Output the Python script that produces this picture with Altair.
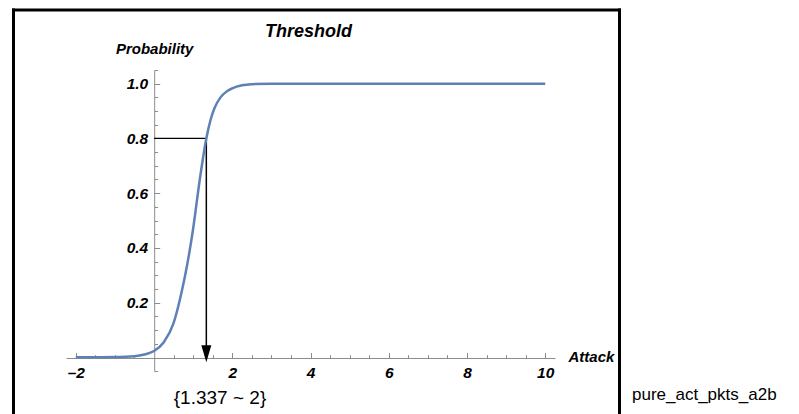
import altair as alt
import pandas as pd

# ---- data ----
attack = [-2, -1.5, -1, -0.5, -0.25, 0, 0.25, 0.5, 0.7, 0.85, 1.0, 1.17, 1.337,
          1.45, 1.55, 1.7, 1.85, 2.0, 2.25, 2.5, 3, 4, 6, 8, 10]
prob = [0, 0.0005, 0.001, 0.004, 0.01, 0.023, 0.055, 0.125, 0.235, 0.34, 0.47, 0.65, 0.8,
        0.87, 0.912, 0.95, 0.971, 0.983, 0.994, 0.998, 1.0, 1.0, 1.0, 1.0, 1.0]

threshold_x = [1.337]
threshold_p = [0.8]
threshold_label = ["{1.337 ~ 2}"]
side_label = ["pure_act_pkts_a2b"]

x_major = [-2, 2, 4, 6, 8, 10]
x_minor = [-1.5, -1, -0.5, 0.5, 1, 1.5, 2.5, 3, 3.5, 4.5, 5, 5.5, 6.5, 7, 7.5,
           8.5, 9, 9.5]
y_major = [0.2, 0.4, 0.6, 0.8, 1.0]
y_minor = [-0.05, 0.05, 0.1, 0.15, 0.25, 0.3, 0.35, 0.45, 0.5, 0.55, 0.65, 0.7,
           0.75, 0.85, 0.9, 0.95, 1.05]

# ---- styling ----
FONT = "Liberation Sans"
GRAY = "#8c8c8c"
BLUE = "#5e81b5"
W, H = 489, 301
PAD = {"left": 58, "top": 62, "right": 236, "bottom": 43}

x_scale = alt.Scale(domain=[-2.25, 10.25], nice=False, zero=False)
y_scale = alt.Scale(domain=[-0.05, 1.05], nice=False, zero=False)

X_OFF = -288            # x axis sits at y = 0
Y_OFF = -(W - 88.2)     # y axis sits at x = 0

x_axis_major = alt.Axis(
    orient="top", offset=X_OFF, values=x_major, grid=False,
    tickSize=5.5, tickColor=GRAY, domainColor=GRAY, domainWidth=1,
    labelPadding=-12.5, labelBaseline="top", labelAlign="center",
    labelExpr="datum.value < 0 ? '\u2013' + abs(datum.value) : datum.label",
    labelFont=FONT, labelFontSize=15.5, labelFontWeight="bold", labelFontStyle="italic",
    labelColor="black", labelFlush=False, labelOverlap=False,
    title="Attack", titleFont=FONT, titleFontSize=15, titleFontWeight="bold",
    titleFontStyle="italic", titleColor="black", titleAngle=0,
    titleX=502, titleY=-2, titleAlign="left", titleBaseline="middle",
)
x_axis_minor = alt.Axis(
    orient="top", offset=X_OFF, values=x_minor, grid=False, domain=False,
    labels=False, tickSize=3.3, tickColor=GRAY, title=None,
)
y_axis_major = alt.Axis(
    orient="right", offset=Y_OFF, values=y_major, format=".1f", grid=False,
    tickSize=5.5, tickColor=GRAY, domainColor=GRAY, domainWidth=1,
    labelPadding=-12, labelAlign="right", labelBaseline="middle",
    labelFont=FONT, labelFontSize=15.5, labelFontWeight="bold", labelFontStyle="italic",
    labelColor="black", labelFlush=False, labelOverlap=False,
    title="Probability", titleFont=FONT, titleFontSize=15, titleFontWeight="bold",
    titleFontStyle="italic", titleColor="black", titleAngle=0,
    titleX=0, titleY=-22, titleAlign="center", titleBaseline="middle",
)
y_axis_minor = alt.Axis(
    orient="right", offset=Y_OFF, values=y_minor, grid=False, domain=False,
    labels=False, tickSize=3.3, tickColor=GRAY, title=None,
)

curve_df = pd.DataFrame({"attack": attack, "prob": prob})
ann_df = pd.DataFrame({
    "x0": [0], "thr": threshold_x, "p": threshold_p, "base": [0],
    "label": threshold_label,
})
one = pd.DataFrame({"k": [0]})

curve = alt.Chart(curve_df).mark_line(
    color=BLUE, strokeWidth=2.5, interpolate="monotone"
).encode(
    x=alt.X("attack:Q", scale=x_scale, axis=x_axis_major),
    y=alt.Y("prob:Q", scale=y_scale, axis=y_axis_major),
)

hline = alt.Chart(ann_df).mark_rule(color="black", strokeWidth=1.2).encode(
    x=alt.X("x0:Q", scale=x_scale, axis=x_axis_minor),
    x2="thr:Q",
    y=alt.Y("p:Q", scale=y_scale, axis=y_axis_minor),
)

vline = alt.Chart(ann_df).mark_rule(color="black", strokeWidth=1.5).encode(
    x=alt.X("thr:Q", scale=x_scale, axis=None),
    y=alt.Y("p:Q", scale=y_scale, axis=None),
    y2="base:Q",
)

arrow = alt.Chart(ann_df).mark_point(
    shape="M-0.5,-1.2L0.5,-1.2L0,0.5Z", filled=True, size=400,
    color="black", opacity=1,
).encode(
    x=alt.X("thr:Q", scale=x_scale, axis=None),
    y=alt.Y("base:Q", scale=y_scale, axis=None),
)

thr_text = alt.Chart(ann_df).mark_text(
    font=FONT, fontSize=19, color="black", align="center", baseline="alphabetic"
).encode(x=alt.value(154), y=alt.value(334), text="label:N")

side_df = pd.DataFrame({"label": side_label})
side_text = alt.Chart(side_df).mark_text(
    font=FONT, fontSize=17, color="black", align="left", baseline="alphabetic"
).encode(x=alt.value(566), y=alt.value(330), text="label:N")

title_text = alt.Chart(one).mark_text(
    font=FONT, fontSize=18, fontWeight="bold", fontStyle="italic", color="black",
    align="center", baseline="alphabetic"
).encode(x=alt.value(242.5), y=alt.value(-33), text=alt.value("Threshold"))

frame_left = alt.Chart(one).mark_rule(color="black", strokeWidth=3).encode(
    x=alt.value(-52.5), y=alt.value(-61.5), y2=alt.value(350))
frame_top = alt.Chart(one).mark_rule(color="black", strokeWidth=3).encode(
    x=alt.value(-54), x2=alt.value(555), y=alt.value(-60))
frame_right = alt.Chart(one).mark_rule(color="black", strokeWidth=3).encode(
    x=alt.value(553.5), y=alt.value(-61.5), y2=alt.value(350))

chart = alt.layer(
    frame_left, frame_top, frame_right,
    hline, vline, arrow, curve,
    thr_text, side_text, title_text,
).resolve_axis(
    x="independent", y="independent"
).properties(
    width=W, height=H, padding=PAD,
    autosize=alt.AutoSizeParams(type="none"),
    background="white",
).configure_view(stroke=None)

chart.save("out.html", embed_options={"renderer": "svg", "actions": False})
